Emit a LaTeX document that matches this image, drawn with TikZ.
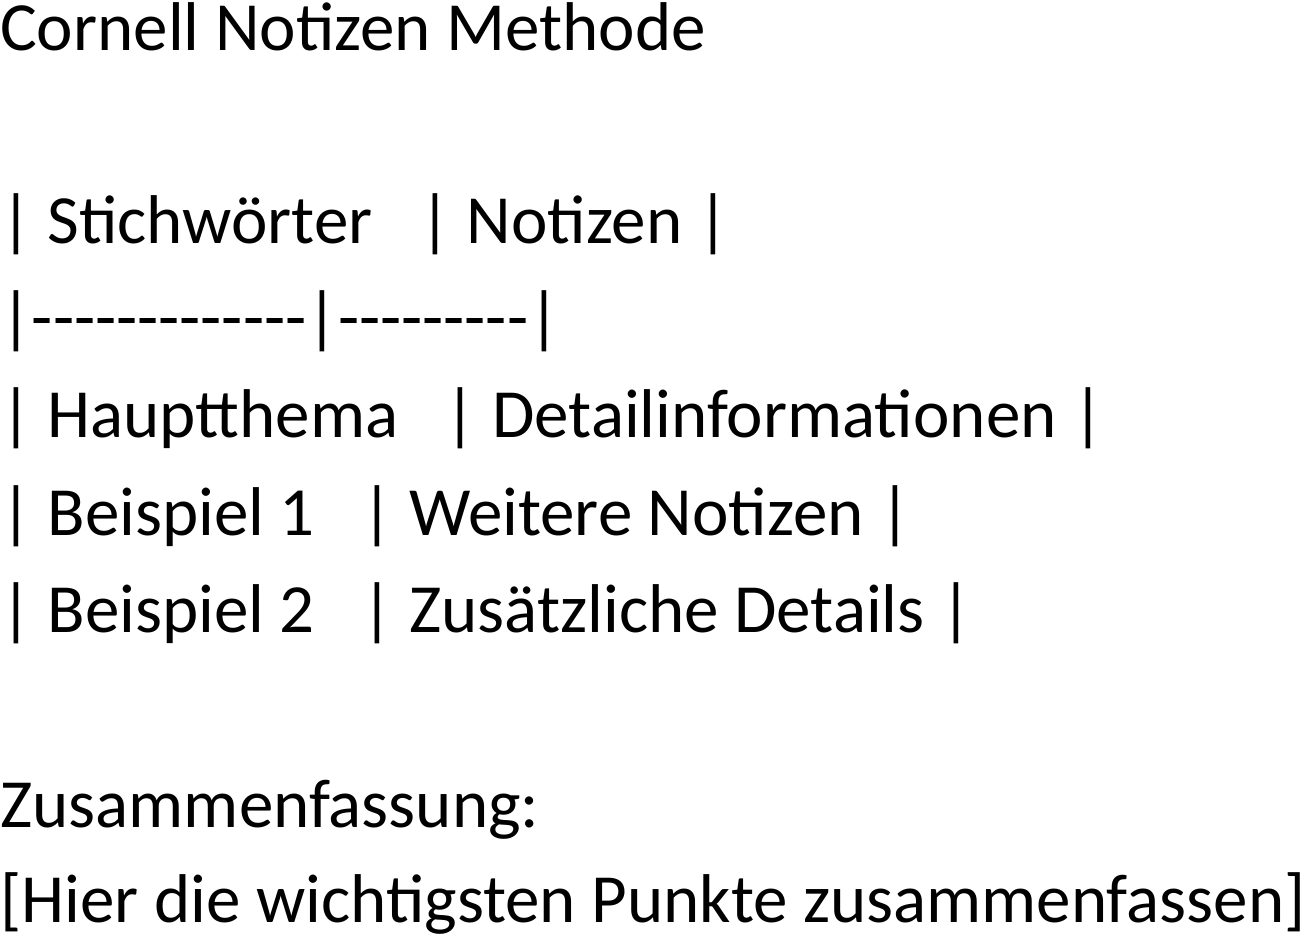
\documentclass[tikz,border=0pt]{standalone}
\usepackage{fontspec}
\setmainfont{Carlito}
\newcommand\dsh[1]{\foreach \i in {1,...,#1}{-\kern0pt}}
\begin{document}
\begin{tikzpicture}[x=1pt,y=-1pt,t/.style={anchor=base west,inner sep=0pt,font=\fontsize{69}{80}\selectfont}]
\useasboundingbox (0,0) rectangle (1306,937);
\node[t] (l1) at (0,50) {Cornell Notizen Methode};
\node[t] (l2) at (0,243) {|\ Stichwörter\ \ \ |\ Notizen\ |};
\node[t] (l3) at (0,340) {|\dsh{13}|\dsh{9}|};
\node[t] (l4) at (0,437) {|\ Hauptthema\ \ \ |\ Detailinformationen\ |};
\node[t] (l5) at (0,535) {|\ Beispiel 1\ \ \ |\ Weitere Notizen\ |};
\node[t] (l6) at (0,632) {|\ Beispiel 2\ \ \ |\ Zusätzliche Details\ |};
\node[t] (l7) at (0,827) {Zusammenfassung:};
\node[t] (l8) at (0,922) {[Hier die wichtigsten Punkte zusammenfassen]};
\end{tikzpicture}
\end{document}
